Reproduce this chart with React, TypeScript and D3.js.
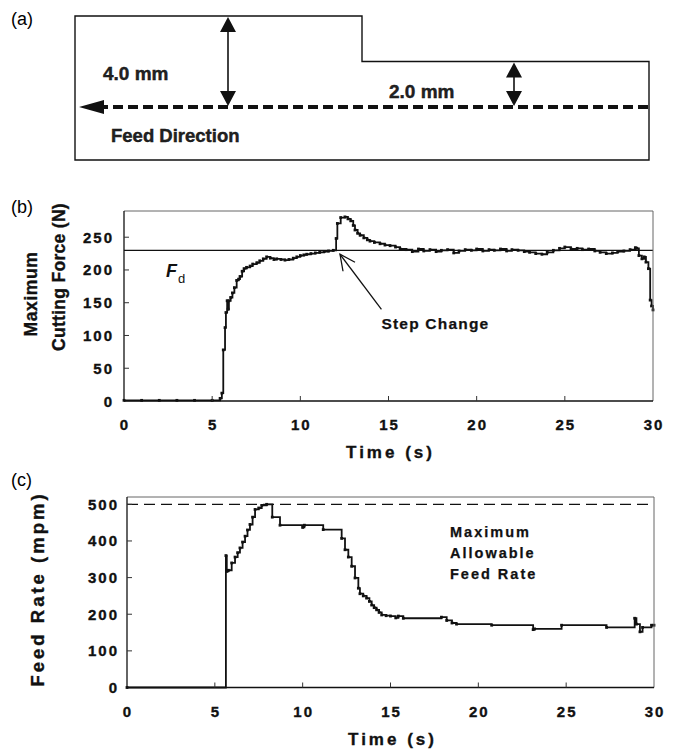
import React, { useEffect, useRef } from "react";
import * as d3 from "d3";

// panel (b): maximum cutting force vs time
const forceTime = [0, 1, 2, 3, 4, 5, 5.45, 5.55, 5.63, 5.73, 5.78, 5.85, 5.9, 5.95, 6.05, 6.15, 6.26, 6.39, 6.5, 6.58, 6.7, 6.81, 6.95, 7.15, 7.3, 7.53, 7.7, 7.9, 8.09, 8.3, 8.5, 8.66, 8.9, 9.13, 9.35, 9.6, 9.8, 10.0, 10.2, 10.36, 10.6, 10.85, 11.1, 11.35, 11.6, 11.87, 12.03, 12.1, 12.29, 12.53, 12.7, 12.86, 13.0, 13.1, 13.25, 13.39, 13.6, 13.8, 13.95, 14.2, 14.52, 14.8, 15.09, 15.4, 15.66, 16.0, 16.35, 16.7, 17.0, 17.35, 17.7, 18.0, 18.35, 18.7, 19.0, 19.35, 19.7, 20.0, 20.35, 20.7, 21.0, 21.35, 21.7, 22.0, 22.35, 22.7, 23.0, 23.35, 23.7, 24.0, 24.35, 24.7, 25.0, 25.35, 25.7, 26.0, 26.35, 26.7, 27.0, 27.35, 27.7, 28.0, 28.35, 28.7, 29.0, 29.08, 29.2, 29.37, 29.5, 29.6, 29.74, 29.84, 29.92, 30];
const forceValue = [1, 1, 1, 1, 1, 1, 4, 12, 78, 112, 135, 153, 140, 153, 158, 165, 173, 184, 186, 190, 198, 202, 204, 206, 209, 211, 214, 217, 220, 218, 216, 217, 216, 215, 216, 218, 220, 222, 223, 224, 225, 226, 227, 228, 229, 230, 248, 271, 280, 281, 278, 275, 268, 261, 256, 253, 249, 246, 244, 242, 240, 238, 237, 235, 232, 231, 228, 232, 229, 231, 228, 230, 231, 226, 229, 231, 230, 232, 229, 231, 230, 232, 229, 231, 230, 228, 227, 225, 224, 227, 230, 233, 235, 232, 233, 231, 232, 229, 227, 225, 226, 228, 229, 231, 234, 233, 222, 217, 220, 212, 202, 154, 145, 139];
const desiredForce = 230;
const forceTicks = [0, 50, 100, 150, 200, 250];

// panel (c): feed rate vs time
const feedTime = [0, 5.63, 5.68, 5.77, 5.96, 6.15, 6.3, 6.43, 6.58, 6.72, 6.86, 7.0, 7.15, 7.29, 7.5, 7.67, 7.95, 8.27, 8.71, 10.0, 10.1, 11.17, 12.22, 12.41, 12.6, 12.79, 12.98, 13.17, 13.26, 13.45, 13.64, 13.8, 13.93, 14.07, 14.21, 14.35, 14.5, 14.75, 15.0, 15.3, 15.45, 15.73, 17.9, 18.2, 18.5, 18.76, 20.76, 23.12, 23.2, 24.74, 27.3, 28.9, 29.0, 29.2, 29.35, 29.86, 30];
const feedValue = [0, 360, 317, 320, 340, 356, 368, 381, 397, 413, 430, 445, 465, 486, 490, 497, 500, 465, 443, 437, 443, 431, 407, 376, 356, 331, 299, 271, 256, 250, 244, 235, 225, 218, 212, 205, 198, 196, 195, 190, 195, 189, 192, 183, 176, 173, 170, 158, 160, 170, 164, 189, 173, 152, 164, 170, 170];
const maxFeed = 500;
const feedTicks = [0, 100, 200, 300, 400, 500];

const timeTicks = [0, 5, 10, 15, 20, 25, 30];

// panel (a): cut depths
const depthHigh = 4.0;
const depthLow = 2.0;

const FONT = "'Liberation Sans', Arial, sans-serif";

// bold text with a hairline stroke so it reads as heavy as the scan
const heavy = (sel, w = 0.35) => sel.attr("font-weight", "bold").attr("stroke", "#111").attr("stroke-width", w);

const App = () => {
  const svgRef = useRef();

  useEffect(() => {
    const svg = d3.select(svgRef.current);
    svg.selectAll("*").remove();
    svg.style("font-family", FONT);

    // ---------- (a) ----------
    const a = svg.append("g");
    const depth = d3.scaleLinear().domain([0, 4]).range([107, 16]);
    const left = 75, step = 362, right = 649, bottom = 160;

    a.append("text").attr("x", 11).attr("y", 25).attr("font-size", 18).text("(a)");

    a.append("path")
      .attr("d", `M${left},${bottom}V${depth(depthHigh)}H${step}V${depth(depthLow)}H${right}V${bottom}Z`)
      .attr("fill", "none").attr("stroke", "#111").attr("stroke-width", 1.4);

    a.append("line")
      .attr("x1", 98).attr("x2", right).attr("y1", depth(0)).attr("y2", depth(0))
      .attr("stroke", "#111").attr("stroke-width", 4).attr("stroke-dasharray", "10,5");
    a.append("path")
      .attr("d", `M79,${depth(0)}L104,${depth(0) - 7}V${depth(0) + 7}Z`)
      .attr("fill", "#111");

    const dblArrow = (x, d) => {
      const y0 = depth(d), y1 = depth(0);
      a.append("line").attr("x1", x).attr("x2", x).attr("y1", y0 + 4).attr("y2", y1 - 4)
        .attr("stroke", "#111").attr("stroke-width", 1.6);
      a.append("path").attr("d", `M${x},${y0 + 1}L${x - 8},${y0 + 16}H${x + 8}Z`).attr("fill", "#111");
      a.append("path").attr("d", `M${x},${y1 - 1}L${x - 8},${y1 - 16}H${x + 8}Z`).attr("fill", "#111");
    };
    dblArrow(228, depthHigh);
    dblArrow(514, depthLow);

    heavy(a.append("text").attr("x", 103).attr("y", 80).attr("font-size", 19)
      .attr("fill", "#222").text(`${depthHigh.toFixed(1)} mm`), 0.4);
    heavy(a.append("text").attr("x", 389).attr("y", 98).attr("font-size", 19)
      .attr("fill", "#222").text(`${depthLow.toFixed(1)} mm`), 0.4);
    heavy(a.append("text").attr("x", 111).attr("y", 142).attr("font-size", 18.5)
      .attr("fill", "#222").text("Feed Direction"), 0.4);

    // ---------- shared plot frame ----------
    const drawFrame = (g, x, y, yTicks, yLabelEnd) => {
      const [x0, x1] = x.range();
      const [y0, y1] = y.range();
      g.append("line").attr("x1", x0).attr("x2", x1).attr("y1", y1).attr("y2", y1).attr("stroke", "#666");
      g.append("line").attr("x1", x1).attr("x2", x1).attr("y1", y1).attr("y2", y0).attr("stroke", "#666");
      g.append("line").attr("x1", x0).attr("x2", x0).attr("y1", y1).attr("y2", y0).attr("stroke", "#111").attr("stroke-width", 1.3);
      g.append("line").attr("x1", x0).attr("x2", x1).attr("y1", y0).attr("y2", y0).attr("stroke", "#111").attr("stroke-width", 1.5);

      g.selectAll(".xt").data(timeTicks.slice(1, -1)).enter().append("line")
        .attr("x1", d => x(d)).attr("x2", d => x(d)).attr("y1", y0).attr("y2", y0 - 5)
        .attr("stroke", "#333");
      g.selectAll(".yt").data(yTicks.slice(1)).enter().append("line")
        .attr("x1", x0).attr("x2", x0 + 5).attr("y1", d => y(d)).attr("y2", d => y(d))
        .attr("stroke", "#333");

      heavy(g.selectAll(".xl").data(timeTicks).enter().append("text")
        .attr("x", d => x(d) + 1).attr("y", y0 + 29)
        .attr("text-anchor", "middle").attr("font-size", 15)
        .attr("letter-spacing", 2).attr("fill", "#111").text(d => d));
      heavy(g.selectAll(".yl").data(yTicks).enter().append("text")
        .attr("x", yLabelEnd + 2).attr("y", d => y(d) + 5.5)
        .attr("text-anchor", "end").attr("font-size", 15)
        .attr("letter-spacing", 2).attr("fill", "#111").text(d => d));

      heavy(g.append("text").attr("x", (x0 + x1) / 2 + 2).attr("y", y0 + 57)
        .attr("text-anchor", "middle").attr("font-size", 17)
        .attr("letter-spacing", 3).attr("fill", "#111").text("Time (s)"));
    };

    const drawSeries = (g, x, y, ts, vs) => {
      const pts = ts.map((t, i) => [t, vs[i]]);
      const line = d3.line().x(d => x(d[0])).y(d => y(d[1])).curve(d3.curveStepAfter);
      g.append("path").datum(pts).attr("d", line)
        .attr("fill", "none").attr("stroke", "#111").attr("stroke-width", 1.8);
      g.selectAll(".mk").data(pts).enter().append("rect")
        .attr("x", d => x(d[0]) - 1.4).attr("y", d => y(d[1]) - 1.4)
        .attr("width", 2.8).attr("height", 2.8).attr("fill", "#111");
    };

    // ---------- (b) ----------
    const b = svg.append("g");
    const xb = d3.scaleLinear().domain([0, 30]).range([124, 653]);
    const yb = d3.scaleLinear().domain([0, 290]).range([401, 211]);

    b.append("text").attr("x", 11).attr("y", 213).attr("font-size", 18).text("(b)");
    b.append("line").attr("x1", xb(0)).attr("x2", xb(30))
      .attr("y1", yb(desiredForce)).attr("y2", yb(desiredForce))
      .attr("stroke", "#111").attr("stroke-width", 1.3);
    drawSeries(b, xb, yb, forceTime, forceValue);
    drawFrame(b, xb, yb, forceTicks, 112);

    heavy(b.append("text").attr("transform", "translate(37,294) rotate(-90)")
      .attr("text-anchor", "middle").attr("font-size", 17.5)
      .attr("letter-spacing", 0.6).attr("fill", "#111").text("Maximum"));
    heavy(b.append("text").attr("transform", "translate(65,277) rotate(-90)")
      .attr("text-anchor", "middle").attr("font-size", 17.5)
      .attr("letter-spacing", 0.3).attr("fill", "#111").text("Cutting Force (N)"));

    const fd = b.append("text").attr("x", 166).attr("y", 277).attr("fill", "#111");
    fd.append("tspan").attr("font-size", 18).attr("font-style", "italic").attr("font-weight", "bold").text("F");
    fd.append("tspan").attr("x", 178).attr("y", 283).attr("font-size", 13).text("d");

    // step change annotation
    const tip = [xb(12.25), yb(224)];
    const tail = [xb(14.6), yb(140)];
    b.append("line").attr("x1", tail[0]).attr("y1", tail[1]).attr("x2", tip[0]).attr("y2", tip[1])
      .attr("stroke", "#111").attr("stroke-width", 1.3);
    b.append("path")
      .attr("d", `M${tip[0] + 3},${tip[1] + 17}L${tip[0]},${tip[1]}L${tip[0] + 15},${tip[1] + 8}`)
      .attr("fill", "none").attr("stroke", "#111").attr("stroke-width", 1.3);
    heavy(b.append("text").attr("x", xb(14.6)).attr("y", yb(110)).attr("font-size", 15.5)
      .attr("letter-spacing", 1.2).attr("fill", "#111").text("Step Change"), 0.25);

    // ---------- (c) ----------
    const c = svg.append("g");
    const xc = d3.scaleLinear().domain([0, 30]).range([127, 654]);
    const yc = d3.scaleLinear().domain([0, 520]).range([687.5, 497]);

    c.append("text").attr("x", 11).attr("y", 486).attr("font-size", 18).text("(c)");
    c.append("line").attr("x1", xc(0)).attr("x2", xc(30))
      .attr("y1", yc(maxFeed)).attr("y2", yc(maxFeed))
      .attr("stroke", "#111").attr("stroke-width", 1.4).attr("stroke-dasharray", "11,6");
    drawSeries(c, xc, yc, feedTime, feedValue);
    drawFrame(c, xc, yc, feedTicks, 117);

    heavy(c.append("text").attr("transform", "translate(44,589) rotate(-90)")
      .attr("text-anchor", "middle").attr("font-size", 18.5)
      .attr("letter-spacing", 3).attr("fill", "#111").text("Feed Rate (mpm)"));

    ["Maximum", "Allowable", "Feed Rate"].forEach((s, i) => {
      heavy(c.append("text").attr("x", 450).attr("y", 537 + i * 20.8).attr("font-size", 14.5)
        .attr("letter-spacing", 2).attr("fill", "#111").text(s), 0.25);
    });
  }, []);

  return (
    <div style={{ margin: 0 }}>
      <svg ref={svgRef} width={680} height={753} style={{ position: "absolute", left: 0, top: 0, background: "#fff" }}></svg>
    </div>
  );
};

export default App;
